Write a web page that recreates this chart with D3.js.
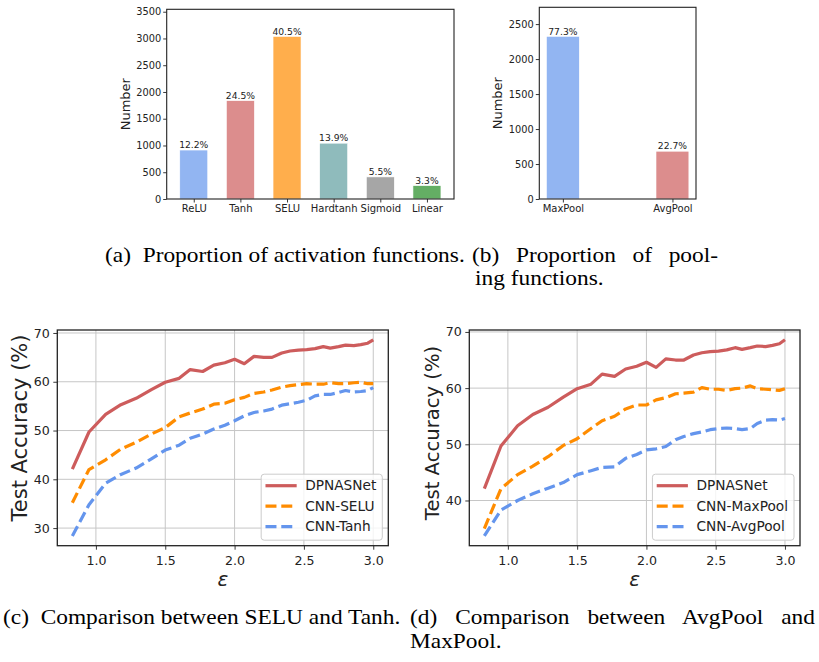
<!DOCTYPE html>
<html>
<head>
<meta charset="utf-8">
<script src="https://cdnjs.cloudflare.com/ajax/libs/d3/7.8.5/d3.min.js"></script>
<style>
body { margin: 0; background: #fff; }
</style>
</head>
<body>
<div id="viz"></div>
<script>
// Data.
var actNames = ["ReLU", "Tanh", "SELU", "Hardtanh", "Sigmoid", "Linear"];
var actCounts = [915, 1838, 3038, 1043, 413, 250];
var actLabels = ["12.2%", "24.5%", "40.5%", "13.9%", "5.5%", "3.3%"];
var actTicks = [0, 500, 1000, 1500, 2000, 2500, 3000, 3500];

var poolNames = ["MaxPool", "AvgPool"];
var poolCounts = [2325, 683];
var poolLabels = ["77.3%", "22.7%"];
var poolTicks = [0, 500, 1000, 1500, 2000, 2500];

var eps = [0.83, 0.95, 1.07, 1.18, 1.29, 1.40, 1.50, 1.60, 1.68, 1.77,
	1.85, 1.93, 2.00, 2.07, 2.14, 2.21, 2.27, 2.34, 2.40, 2.46,
	2.52, 2.58, 2.64, 2.69, 2.75, 2.80, 2.86, 2.91, 2.96, 3.00];
var epsTicks = [1.0, 1.5, 2.0, 2.5, 3.0];

var dpnas = [42.1, 49.7, 53.3, 55.3, 56.6, 58.4, 59.9, 60.7, 62.5, 62.1,
	63.4, 63.9, 64.6, 63.7, 65.2, 65.0, 65.0, 65.9, 66.3, 66.5,
	66.6, 66.8, 67.2, 66.9, 67.2, 67.5, 67.4, 67.6, 67.9, 68.6];
var cnnSelu = [35.2, 42.0, 44.0, 46.2, 47.6, 49.3, 50.6, 52.8, 53.6, 54.4,
	55.4, 55.6, 56.3, 56.8, 57.6, 57.9, 58.3, 58.9, 59.2, 59.4,
	59.6, 59.5, 59.5, 59.8, 59.6, 59.6, 59.8, 59.9, 59.6, 59.6];
var cnnTanh = [28.4, 34.8, 39.2, 41.0, 42.3, 44.2, 46.0, 47.0, 48.4, 49.3,
	50.3, 51.1, 52.0, 53.0, 53.7, 54.0, 54.4, 55.2, 55.5, 55.8,
	56.2, 57.1, 57.4, 57.4, 57.8, 58.2, 57.9, 58.0, 58.2, 58.8];
var cnnMaxPool = [35.0, 42.1, 44.6, 46.1, 47.8, 49.8, 51.0, 52.8, 54.2, 55.0,
	56.3, 57.0, 57.0, 57.9, 58.3, 59.0, 59.1, 59.3, 60.1, 59.8,
	59.8, 59.6, 59.9, 60.0, 60.4, 59.9, 59.8, 59.7, 59.6, 59.9];
var cnnAvgPool = [33.7, 38.3, 40.0, 41.2, 42.2, 43.2, 44.6, 45.3, 45.9, 46.0,
	47.5, 48.2, 49.0, 49.2, 49.6, 50.8, 51.4, 51.9, 52.2, 52.6,
	52.8, 52.9, 52.8, 52.6, 52.8, 53.7, 54.3, 54.4, 54.3, 54.6];
var accTicksA = [30, 40, 50, 60, 70];
var accTicksB = [40, 50, 60, 70];

var svg = d3.select("#viz")
	.append("svg")
	.attr("width", 819)
	.attr("height", 662)
	.style("font-family", "'DejaVu Sans', sans-serif");

svg.append("rect")
	.attr("width", 819)
	.attr("height", 662)
	.style("fill", "#fff");

function styleAxis(a, size) {
	a.select(".domain").remove();
	a.selectAll("line").style("stroke", "#222").style("stroke-width", 0.9);
	a.selectAll("text")
		.style("font-family", "'DejaVu Sans', sans-serif")
		.style("font-size", size + "px")
		.style("fill", "#222");
}

// Bar chart (matplotlib style margins).
function barChart(x0, x1, y0, y1, names, counts, labels, ticks, ymax, bw, colors, labX) {
	var n = names.length;
	var m = 0.05 * (n - 1 + bw);
	var x = d3.scaleLinear().domain([-bw / 2 - m, n - 1 + bw / 2 + m]).range([x0, x1]);
	var y = d3.scaleLinear().domain([0, ymax]).range([y1, y0]);
	var g = svg.append("g");

	g.selectAll("rect.bar")
		.data(counts)
		.enter().append("rect")
		.attr("class", "bar")
		.attr("x", function(d, i) { return x(i - bw / 2); })
		.attr("width", x(bw) - x(0))
		.attr("y", function(d) { return y(d); })
		.attr("height", function(d) { return y(0) - y(d); })
		.style("fill", function(d, i) { return colors[i]; })
		.style("stroke", "#fff")
		.style("stroke-width", 0.6);

	// Percent labels.
	g.selectAll("text.pct")
		.data(labels)
		.enter().append("text")
		.attr("class", "pct")
		.attr("x", function(d, i) { return x(i); })
		.attr("y", function(d, i) { return y(counts[i]) - 1.8; })
		.attr("text-anchor", "middle")
		.style("font-size", "9.2px")
		.style("fill", "#222")
		.text(function(d) { return d; });

	var ay = g.append("g")
		.attr("transform", "translate(" + x0 + ",0)")
		.call(d3.axisLeft(y).tickValues(ticks).tickFormat(d3.format("d"))
			.tickSize(3.5).tickPadding(2));
	styleAxis(ay, 9.8);

	var ax = g.append("g")
		.attr("transform", "translate(0," + y1 + ")")
		.call(d3.axisBottom(x).tickValues(d3.range(n))
			.tickFormat(function(i) { return names[i]; })
			.tickSize(3.5).tickPadding(2.5));
	styleAxis(ax, 10);

	g.append("rect")
		.attr("x", x0)
		.attr("y", y0)
		.attr("width", x1 - x0)
		.attr("height", y1 - y0)
		.style("fill", "none")
		.style("stroke", "#222")
		.style("stroke-width", 1.1);

	g.append("text")
		.attr("transform", "translate(" + labX + "," + (y0 + y1) / 2 + ") rotate(-90)")
		.attr("text-anchor", "middle")
		.attr("dy", "0.35em")
		.style("font-size", "13px")
		.style("fill", "#222")
		.text("Number");
}

// Line chart.
function lineChart(x0, x1, y0, y1, series, names, ticks, labX, labY, labSize) {
	var all = d3.merge(series.map(function(s) { return s.values; }));
	var lo = d3.min(all), hi = d3.max(all), my = 0.05 * (hi - lo);
	var ex = d3.extent(eps), mx = 0.05 * (ex[1] - ex[0]);
	var x = d3.scaleLinear().domain([ex[0] - mx, ex[1] + mx]).range([x0, x1]);
	var y = d3.scaleLinear().domain([lo - my, hi + my]).range([y1, y0]);
	var g = svg.append("g");

	// Grid.
	g.selectAll("line.gx")
		.data(epsTicks)
		.enter().append("line")
		.attr("x1", function(d) { return x(d); })
		.attr("x2", function(d) { return x(d); })
		.attr("y1", y0)
		.attr("y2", y1)
		.style("stroke", "#c6c6c6")
		.style("stroke-width", 1);
	g.selectAll("line.gy")
		.data(ticks)
		.enter().append("line")
		.attr("x1", x0)
		.attr("x2", x1)
		.attr("y1", function(d) { return y(d); })
		.attr("y2", function(d) { return y(d); })
		.style("stroke", "#c6c6c6")
		.style("stroke-width", 1);

	var line = d3.line()
		.x(function(d, i) { return x(eps[i]); })
		.y(function(d) { return y(d); });

	series.forEach(function(s) {
		g.append("path")
			.attr("d", line(s.values))
			.style("fill", "none")
			.style("stroke", s.color)
			.style("stroke-width", 3.2)
			.style("stroke-linejoin", "round")
			.style("stroke-dasharray", s.dash);
	});

	var ay = g.append("g")
		.attr("transform", "translate(" + x0 + ",0)")
		.call(d3.axisLeft(y).tickValues(ticks).tickSize(4).tickPadding(3.5));
	styleAxis(ay, 12.6);

	var ax = g.append("g")
		.attr("transform", "translate(0," + y1 + ")")
		.call(d3.axisBottom(x).tickValues(epsTicks).tickFormat(d3.format(".1f"))
			.tickSize(4).tickPadding(6.5));
	styleAxis(ax, 12.6);

	g.append("rect")
		.attr("x", x0)
		.attr("y", y0)
		.attr("width", x1 - x0)
		.attr("height", y1 - y0)
		.style("fill", "none")
		.style("stroke", "#222")
		.style("stroke-width", 1.3);

	// Axis labels.
	g.append("text")
		.attr("transform", "translate(" + labX + "," + labY + ") rotate(-90)")
		.attr("text-anchor", "middle")
		.attr("dy", "0.35em")
		.style("font-size", labSize + "px")
		.style("fill", "#222")
		.text("Test Accuracy (%)");
	g.append("text")
		.attr("x", (x0 + x1) / 2)
		.attr("y", 586)
		.attr("text-anchor", "middle")
		.style("font-size", "20px")
		.style("font-style", "italic")
		.style("fill", "#222")
		.text("ε");

	// Legend.
	var lg = g.append("g");
	var box = lg.append("rect");
	var texts = [];
	series.forEach(function(s, i) {
		texts.push(lg.append("text")
			.style("font-size", "13.7px")
			.style("fill", "#222")
			.attr("dy", "0.35em")
			.text(names[i]));
	});
	var tw = d3.max(texts, function(t) { return t.node().getComputedTextLength(); });
	var bwid = 44 + tw + 6, bh = 66;
	var bx = x1 - 6 - bwid, by = y1 - 5.5 - bh;
	box.attr("x", bx)
		.attr("y", by)
		.attr("width", bwid)
		.attr("height", bh)
		.attr("rx", 3)
		.style("fill", "#fff")
		.style("fill-opacity", 0.8)
		.style("stroke", "#cccccc")
		.style("stroke-width", 1);
	series.forEach(function(s, i) {
		var ry = by + 11.5 + i * 20.5;
		lg.append("line")
			.attr("x1", bx + 4.3)
			.attr("x2", bx + 35.5)
			.attr("y1", ry)
			.attr("y2", ry)
			.style("stroke", s.color)
			.style("stroke-width", 3.2)
			.style("stroke-dasharray", s.dash);
		texts[i].attr("x", bx + 44).attr("y", ry);
	});
}

barChart(166.7, 454, 9.3, 199, actNames, actCounts, actLabels, actTicks, 3545, 0.6,
	["#92b5f2", "#dc8d8d", "#ffae4c", "#8fbbbc", "#a6a6a6", "#64ae64"], 125);
barChart(539.3, 696, 7.3, 199, poolNames, poolCounts, poolLabels, poolTicks, 2740, 0.3,
	["#92b5f2", "#dc8d8d"], 497);

var red = "#cd5c5c", orange = "#ff8c00", blue = "#6495ed";
lineChart(57.3, 388.3, 330, 545.7, [
	{ values: dpnas, color: red, dash: null },
	{ values: cnnSelu, color: orange, dash: "11,4.8" },
	{ values: cnnTanh, color: blue, dash: "11,4.8" }
], ["DPNASNet", "CNN-SELU", "CNN-Tanh"], accTicksA, 20, 428, 21);
lineChart(469.3, 800, 330, 545.7, [
	{ values: dpnas, color: red, dash: null },
	{ values: cnnMaxPool, color: orange, dash: "11,4.8" },
	{ values: cnnAvgPool, color: blue, dash: "11,4.8" }
], ["DPNASNet", "CNN-MaxPool", "CNN-AvgPool"], accTicksB, 432, 433, 19.6);

// Captions (the serif text in the source is a bit wider than Liberation Serif).
var sx = 1.17;
function caption(x, y, s, len) {
	var t = svg.append("text")
		.attr("transform", "translate(" + x + "," + y + ") scale(" + sx + ",1)")
		.style("font-family", "'Liberation Serif', 'Times New Roman', serif")
		.style("font-size", "20px")
		.style("fill", "#000")
		.text(s);
	if (len) {
		// justified line: spread the rest over the word gaps
		var nat = t.node().getComputedTextLength();
		var gaps = s.split(" ").length - 1;
		t.style("word-spacing", ((len / sx - nat) / gaps) + "px");
	}
}
caption(105, 262, "(a)\u00a0 Proportion of activation functions.", null);
caption(472, 262, "(b) Proportion of pool-", 246);
caption(475, 285, "ing functions.", null);
caption(3, 624, "(c)\u00a0 Comparison between SELU and Tanh.", null);
caption(410, 624, "(d) Comparison between AvgPool and", 405);
caption(410, 648, "MaxPool.", null);
</script>
</body>
</html>
